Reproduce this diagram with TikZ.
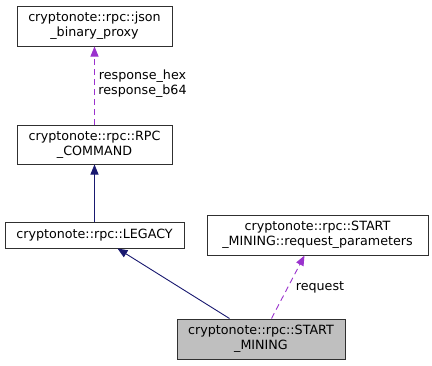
\documentclass[tikz,border=0pt]{standalone}
\usepackage{fontspec}
\setmainfont{DejaVu Sans}
\usetikzlibrary{arrows.meta,calc}
\definecolor{inherit}{HTML}{191970}
\definecolor{usage}{HTML}{9A32CD}
\definecolor{framec}{HTML}{303030}
\definecolor{current}{HTML}{BFBFBF}
\begin{document}
\begin{tikzpicture}[x=1pt,y=-1pt,
  cls/.style={draw=framec,line width=1pt,fill=white,align=center,inner sep=0pt,
    font=\fontsize{12.7}{15}\selectfont},
  inh/.style={draw=inherit,line width=0.9pt,-{Triangle[length=10pt,width=8pt]}},
  use/.style={draw=usage,line width=0.9pt,dash pattern=on 6pt off 4pt,
    -{Triangle[length=10pt,width=8pt]}},
  lbl/.style={align=center,inner sep=0pt,font=\fontsize{12.7}{15}\selectfont}]
\useasboundingbox (0,0) rectangle (432,365);
% class boxes
\node[cls,minimum width=155pt,minimum height=40pt] (json) at (94.5,26)
  {cryptonote::rpc::json\\\_binary\_proxy};
\node[cls,minimum width=155pt,minimum height=39pt] (rpc) at (94.5,144.5)
  {cryptonote::rpc::RPC\\\_COMMAND};
\node[cls,minimum width=179pt,minimum height=26pt] (legacy) at (94.5,235)
  {cryptonote::rpc::LEGACY};
\node[cls,minimum width=221pt,minimum height=40pt] (reqp) at (317.5,235)
  {cryptonote::rpc::START\\\_MINING::request\_parameters};
\node[cls,fill=current,minimum width=168pt,minimum height=40pt] (start) at (261,339)
  {cryptonote::rpc::START\\\_MINING};
% relations
\draw[use] (rpc.north) -- (json.south);
\draw[inh] (legacy.north) -- (rpc.south);
\draw[inh] ($(start.north west)+(53,0)$) -- ($(legacy.south west)+(113,0)$);
\draw[use] ($(start.north west)+(95,0)$) -- ($(reqp.south west)+(98,0)$);
% member labels
\node[lbl] (lresp) at (142.5,84) {response\_hex\\response\_b64};
\node[lbl] (lreq) at (320,287) {request};
\end{tikzpicture}
\end{document}
